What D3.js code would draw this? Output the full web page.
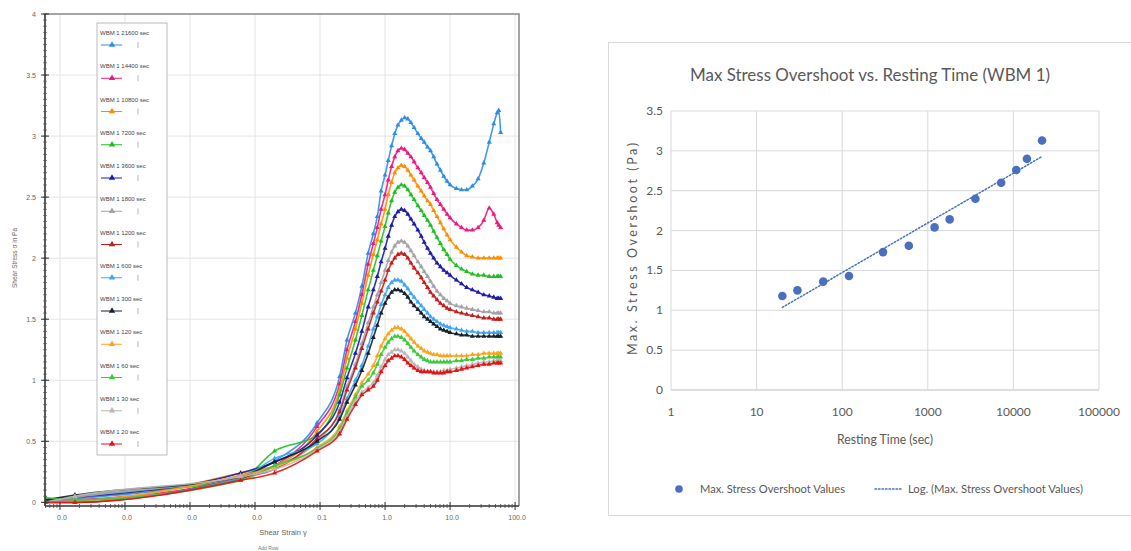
<!DOCTYPE html>
<html>
<head>
<meta charset="utf-8">
<script src="https://cdn.jsdelivr.net/npm/d3@7"></script>
<style>
  html, body { margin: 0; padding: 0; background: #fff; }
  svg { display: block; }
</style>
</head>
<body>
<svg id="chart" width="1131" height="551"></svg>
<script>
// ---------- Start-up shear curves: shear stress vs shear strain ----------
const strain = [
  0.000006, 0.000017, 0.006, 0.02, 0.09,
  0.2, 0.26, 0.35, 0.44, 0.55,
  0.66, 0.76, 0.87, 1.0, 1.12,
  1.26, 1.41, 1.58, 1.78, 2.0,
  2.24, 2.5, 2.8, 3.2, 3.6,
  4.0, 4.5, 5.0, 5.6, 6.3,
  7.1, 8.0, 9.0, 10, 12.5,
  15, 18, 22, 27, 33,
  40, 47, 53, 56, 60
];

const stress21600 = [
  0.01, 0.03, 0.22, 0.34, 0.65,
  1.03, 1.33, 1.55, 1.77, 2.04,
  2.2, 2.34, 2.55, 2.68, 2.8,
  2.92, 3.02, 3.09, 3.13, 3.15,
  3.14, 3.11, 3.07, 3.02, 2.98,
  2.95, 2.91, 2.88, 2.83, 2.77,
  2.72, 2.67, 2.63, 2.6, 2.57,
  2.56, 2.56, 2.59, 2.65, 2.78,
  2.95, 3.1, 3.19, 3.21, 3.03
];
const stress14400 = [
  0.01, 0.02, 0.2, 0.3, 0.62,
  0.97, 1.25, 1.48, 1.7, 1.95,
  2.12, 2.25, 2.4, 2.52, 2.64,
  2.75, 2.83, 2.88, 2.9, 2.89,
  2.86, 2.83, 2.79, 2.74, 2.7,
  2.66, 2.62, 2.58, 2.53, 2.48,
  2.44, 2.4, 2.36, 2.33, 2.28,
  2.25, 2.23, 2.23, 2.25, 2.31,
  2.41, 2.36, 2.29, 2.27, 2.25
];
const stress10800 = [
  0, 0, 0.24, 0.3, 0.58,
  0.92, 1.18, 1.42, 1.63, 1.86,
  2.03, 2.15, 2.28, 2.4, 2.52,
  2.62, 2.7, 2.74, 2.76, 2.75,
  2.72, 2.68, 2.64, 2.59, 2.55,
  2.51, 2.47, 2.44, 2.39, 2.34,
  2.29, 2.24, 2.19, 2.15, 2.09,
  2.05, 2.02, 2.01, 2.0, 2.0,
  2.0, 2.0, 2.0, 2.0, 2.0
];
const stress7200 = [
  0.02, 0.05, 0.19, 0.42, 0.55,
  0.88, 1.1, 1.33, 1.53, 1.74,
  1.9, 2.02, 2.14, 2.26, 2.37,
  2.47, 2.54, 2.58, 2.6, 2.59,
  2.56, 2.52, 2.48, 2.43, 2.39,
  2.35, 2.31, 2.27, 2.22, 2.17,
  2.12, 2.07, 2.03, 1.99, 1.94,
  1.91, 1.89, 1.87, 1.86, 1.86,
  1.85, 1.85, 1.85, 1.85, 1.85
];
const stress3600 = [
  0.02, 0.04, 0.24, 0.33, 0.55,
  0.82, 1.02, 1.22, 1.4, 1.6,
  1.74, 1.85, 1.97, 2.08, 2.18,
  2.27, 2.34, 2.38, 2.4, 2.39,
  2.36, 2.32, 2.28, 2.23, 2.18,
  2.13, 2.08, 2.04, 2.0, 1.96,
  1.93, 1.9, 1.88, 1.86, 1.82,
  1.79, 1.76, 1.74, 1.72, 1.7,
  1.69, 1.68, 1.67, 1.67, 1.67
];
const stress1800 = [
  0, 0.04, 0.22, 0.3, 0.5,
  0.76, 0.95, 1.13, 1.3, 1.47,
  1.6, 1.7, 1.8, 1.9, 1.98,
  2.05, 2.1, 2.13, 2.14, 2.13,
  2.1, 2.06, 2.02, 1.97, 1.93,
  1.89, 1.85, 1.81, 1.77, 1.73,
  1.7, 1.67, 1.65, 1.63, 1.61,
  1.6, 1.59, 1.58, 1.57, 1.56,
  1.56, 1.55, 1.55, 1.55, 1.55
];
const stress1200 = [
  0, 0, 0.2, 0.27, 0.52,
  0.74, 0.92, 1.1, 1.26, 1.42,
  1.55, 1.64, 1.73, 1.82, 1.9,
  1.96, 2.0, 2.03, 2.04, 2.03,
  2.0, 1.96, 1.92, 1.88, 1.84,
  1.8, 1.76, 1.72, 1.69, 1.66,
  1.63, 1.61, 1.59, 1.58, 1.56,
  1.55, 1.54, 1.53, 1.52, 1.51,
  1.51, 1.5, 1.5, 1.5, 1.5
];
const stress600 = [
  0.03, 0.02, 0.2, 0.36, 0.48,
  0.7, 0.85, 1.0, 1.12, 1.28,
  1.42, 1.52, 1.62, 1.7, 1.76,
  1.8, 1.82, 1.82, 1.81, 1.78,
  1.75, 1.71, 1.68, 1.64, 1.61,
  1.58, 1.55, 1.52, 1.5, 1.48,
  1.46, 1.45, 1.44, 1.43, 1.42,
  1.41, 1.4, 1.4, 1.39, 1.39,
  1.39, 1.39, 1.39, 1.39, 1.39
];
const stress300 = [
  0.02, 0.06, 0.21, 0.33, 0.5,
  0.68, 0.82, 0.96, 1.08, 1.22,
  1.35, 1.45, 1.55, 1.63, 1.68,
  1.72, 1.74, 1.74, 1.73, 1.71,
  1.68, 1.64, 1.61, 1.58, 1.55,
  1.52, 1.5, 1.48, 1.46, 1.44,
  1.42, 1.41, 1.4, 1.39, 1.38,
  1.37, 1.37, 1.36, 1.36, 1.36,
  1.36, 1.36, 1.36, 1.36, 1.36
];
const stress120 = [
  0, 0.01, 0.22, 0.29, 0.45,
  0.62, 0.75, 0.88, 0.98, 1.05,
  1.12, 1.2, 1.28, 1.34, 1.38,
  1.41, 1.43, 1.43, 1.42, 1.4,
  1.37, 1.34, 1.31, 1.28, 1.26,
  1.24, 1.23, 1.22, 1.21, 1.21,
  1.2, 1.2, 1.2, 1.2, 1.2,
  1.2, 1.2, 1.21, 1.21, 1.22,
  1.22, 1.22, 1.22, 1.22, 1.22
];
const stress60 = [
  0.04, 0.02, 0.18, 0.3, 0.44,
  0.6, 0.73, 0.86, 0.95, 1.0,
  1.06, 1.13, 1.21, 1.27, 1.31,
  1.34, 1.36, 1.36, 1.35, 1.33,
  1.3, 1.27, 1.24, 1.21, 1.19,
  1.17, 1.16, 1.15, 1.15, 1.15,
  1.15, 1.15, 1.15, 1.15, 1.16,
  1.16, 1.17, 1.17, 1.18, 1.18,
  1.19, 1.19, 1.19, 1.19, 1.19
];
const stress30 = [
  0, 0.05, 0.21, 0.27, 0.43,
  0.58, 0.7, 0.83, 0.9, 0.94,
  0.98, 1.04, 1.11, 1.17, 1.21,
  1.23, 1.25, 1.25, 1.24, 1.22,
  1.19, 1.16, 1.13, 1.11, 1.09,
  1.08, 1.07, 1.07, 1.07, 1.07,
  1.07, 1.08, 1.08, 1.09, 1.1,
  1.11, 1.12, 1.13, 1.14, 1.15,
  1.15, 1.16, 1.16, 1.16, 1.16
];
const stress20 = [
  0, 0, 0.18, 0.24, 0.42,
  0.56, 0.68, 0.8, 0.88, 0.92,
  0.95, 1.0, 1.07, 1.12, 1.16,
  1.18, 1.2, 1.2, 1.19, 1.17,
  1.14, 1.12, 1.1, 1.08, 1.07,
  1.07, 1.07, 1.07, 1.06, 1.06,
  1.06, 1.06, 1.07, 1.07, 1.08,
  1.09, 1.1, 1.11, 1.12, 1.13,
  1.13, 1.14, 1.14, 1.14, 1.14
];

const seriesLabels = [
  "WBM 1 21600 sec", "WBM 1 14400 sec", "WBM 1 10800 sec", "WBM 1 7200 sec",
  "WBM 1 3600 sec", "WBM 1 1800 sec", "WBM 1 1200 sec", "WBM 1 600 sec",
  "WBM 1 300 sec", "WBM 1 120 sec", "WBM 1 60 sec", "WBM 1 30 sec", "WBM 1 20 sec"
];
const seriesValues = [
  stress21600, stress14400, stress10800, stress7200, stress3600, stress1800,
  stress1200, stress600, stress300, stress120, stress60, stress30, stress20
];
const strainTickValues = [1e-5, 1e-4, 1e-3, 1e-2, 0.1, 1, 10, 100];
const strainTickLabels = ["0.0", "0.0", "0.0", "0.0", "0.1", "1.0", "10.0", "100.0"];
const stressTickValues = [0, 0.5, 1, 1.5, 2, 2.5, 3, 3.5, 4];
const stressTickLabels = ["0", "0.5", "1", "1.5", "2", "2.5", "3", "3.5", "4"];

// ---------- Max stress overshoot vs resting time ----------
const restingTime = [20, 30, 60, 120, 300, 600, 1200, 1800, 3600, 7200, 10800, 14400, 21600];
const maxOvershoot = [1.18, 1.25, 1.36, 1.43, 1.73, 1.81, 2.04, 2.14, 2.40, 2.60, 2.76, 2.90, 3.13];
const timeTickValues = [1, 10, 100, 1000, 10000, 100000];
const timeTickLabels = ["1", "10", "100", "1000", "10000", "100000"];
const overshootTickValues = [0, 0.5, 1, 1.5, 2, 2.5, 3, 3.5];
const overshootTickLabels = ["0", "0.5", "1", "1.5", "2", "2.5", "3", "3.5"];

// Series styling
const palette = [
  "#2a8ee6", "#f0187e", "#ff8c00", "#1fbf1f", "#1c1ca8", "#a3a3a3", "#c41e1e",
  "#3ea6f2", "#17202e", "#ffa31a", "#3acb3a", "#b8b8b8", "#e81212"
];

const svg = d3.select("#chart");

// ======================= Left chart =======================
const L = { left: 45, right: 519, top: 14, bottom: 506 };
const xL = d3.scaleLog().domain([Math.pow(10, -5.23), Math.pow(10, 2.06)]).range([L.left, L.right]);
const yL = d3.scaleLinear().domain([-0.03, 4]).range([L.bottom, L.top]);

const gL = svg.append("g").attr("font-family", "Liberation Sans, Arial, sans-serif");

// grid
gL.append("g").selectAll("line.h").data(stressTickValues.slice(1)).join("line")
  .attr("x1", L.left).attr("x2", L.right)
  .attr("y1", d => yL(d)).attr("y2", d => yL(d))
  .attr("stroke", "#e4e4e4").attr("stroke-width", 1);
gL.append("g").selectAll("line.v").data(strainTickValues).join("line")
  .attr("x1", d => xL(d)).attr("x2", d => xL(d))
  .attr("y1", L.top).attr("y2", L.bottom)
  .attr("stroke", "#e4e4e4").attr("stroke-width", 1);

// frame (top / right)
gL.append("path")
  .attr("d", `M${L.left},${L.top}H${L.right}V${L.bottom}`)
  .attr("fill", "none").attr("stroke", "#8c8c8c").attr("stroke-width", 1.6);

// curves
svg.append("clipPath").attr("id", "clipL").append("rect")
  .attr("x", L.left).attr("y", L.top - 2).attr("width", L.right - L.left).attr("height", L.bottom - L.top + 2);

const line = d3.line()
  .defined(d => d[1] != null)
  .x(d => xL(d[0])).y(d => yL(d[1]))
  .curve(d3.curveMonotoneX);
const tri = d3.symbol().type(d3.symbolTriangle).size(11);

const curvesG = gL.append("g").attr("clip-path", "url(#clipL)");
seriesValues.forEach((vals, i) => {
  const pts = strain.map((s, k) => [s, vals[k]]).filter(d => d[1] != null);
  const g = curvesG.append("g");
  g.append("path").datum(pts).attr("d", line)
    .attr("fill", "none").attr("stroke", palette[i]).attr("stroke-width", 1.6)
    .attr("stroke-opacity", 0.9);
  g.selectAll("path.m").data(pts).join("path").attr("class", "m")
    .attr("d", tri)
    .attr("transform", d => `translate(${xL(d[0])},${yL(d[1])})`)
    .attr("fill", palette[i]);
});

// y axis
gL.append("line").attr("x1", L.left).attr("x2", L.left).attr("y1", L.top).attr("y2", L.bottom)
  .attr("stroke", "#333").attr("stroke-width", 1.6);
const yMinor = d3.range(0, 4.0001, 0.05);
gL.append("g").selectAll("line").data(yMinor).join("line")
  .attr("x1", L.left - 2).attr("x2", L.left + 2)
  .attr("y1", d => yL(d)).attr("y2", d => yL(d))
  .attr("stroke", "#555").attr("stroke-width", 0.7);
gL.append("g").selectAll("line").data(stressTickValues).join("line")
  .attr("x1", L.left - 4).attr("x2", L.left + 4)
  .attr("y1", d => yL(d)).attr("y2", d => yL(d))
  .attr("stroke", "#333").attr("stroke-width", 1);
gL.append("g").selectAll("text").data(stressTickValues).join("text")
  .attr("x", L.left - 9).attr("y", d => yL(d) + 2.5)
  .attr("text-anchor", "end").attr("font-size", 7).attr("fill", "#666")
  .text((d, i) => stressTickLabels[i]);
gL.append("text")
  .attr("transform", `translate(17,${258}) rotate(-90)`)
  .attr("text-anchor", "middle").attr("font-size", 6.5).attr("fill", "#666")
  .text("Shear Stress σ in Pa");

// x axis
gL.append("line").attr("x1", L.left).attr("x2", L.right).attr("y1", L.bottom).attr("y2", L.bottom)
  .attr("stroke", "#333").attr("stroke-width", 1.6);
const xMinor = [];
for (let e = -6; e <= 2; e++) for (let m = 2; m <= 9; m++) {
  const v = m * Math.pow(10, e);
  if (v >= xL.domain()[0] && v <= xL.domain()[1]) xMinor.push(v);
}
gL.append("g").selectAll("line").data(xMinor).join("line")
  .attr("x1", d => xL(d)).attr("x2", d => xL(d))
  .attr("y1", L.bottom - 2).attr("y2", L.bottom + 2)
  .attr("stroke", "#444").attr("stroke-width", 0.8);
gL.append("g").selectAll("line").data(strainTickValues).join("line")
  .attr("x1", d => xL(d)).attr("x2", d => xL(d))
  .attr("y1", L.bottom - 4).attr("y2", L.bottom + 4)
  .attr("stroke", "#333").attr("stroke-width", 1);
gL.append("g").selectAll("text").data(strainTickValues).join("text")
  .attr("x", d => xL(d) + 2).attr("y", 520)
  .attr("text-anchor", "middle").attr("font-size", 7).attr("fill", "#666")
  .text((d, i) => strainTickLabels[i]);
gL.append("text").attr("x", 283).attr("y", 535)
  .attr("text-anchor", "middle").attr("font-size", 7.5).attr("fill", "#666")
  .text("Shear Strain γ");
gL.append("text").attr("x", 258).attr("y", 550)
  .attr("text-anchor", "start").attr("font-size", 5).attr("fill", "#777")
  .text("Add Row");

// legend
const legG = gL.append("g");
legG.append("rect").attr("x", 97).attr("y", 23).attr("width", 70).attr("height", 432)
  .attr("fill", "#fff").attr("stroke", "#aaa").attr("stroke-width", 0.8);
seriesLabels.forEach((lab, i) => {
  const y0 = 33 + i * 33.25;
  legG.append("text").attr("x", 100).attr("y", y0 + 2)
    .attr("font-size", 6).attr("fill", "#444").text(lab);
  legG.append("line").attr("x1", 101).attr("x2", 122).attr("y1", y0 + 12).attr("y2", y0 + 12)
    .attr("stroke", palette[i]).attr("stroke-width", 1);
  legG.append("path").attr("d", d3.symbol().type(d3.symbolTriangle).size(18))
    .attr("transform", `translate(112,${y0 + 12})`).attr("fill", palette[i]);
  legG.append("line").attr("x1", 138).attr("x2", 138).attr("y1", y0 + 9).attr("y2", y0 + 15)
    .attr("stroke", "#999").attr("stroke-width", 0.7);
});

// ======================= Right chart =======================
const R = { left: 671, right: 1099, top: 111, bottom: 390 };
const xR = d3.scaleLog().domain([1, 100000]).range([R.left, R.right]);
const yR = d3.scaleLinear().domain([0, 3.5]).range([R.bottom, R.top]);
const gR = svg.append("g").attr("font-family", "Lato, 'Open Sans', sans-serif").attr("fill", "#595959");

gR.append("rect").attr("x", 608.5).attr("y", 42.5).attr("width", 540).attr("height", 473)
  .attr("fill", "#fff").attr("stroke", "#d9d9d9").attr("stroke-width", 1);

gR.append("text").attr("x", 870).attr("y", 81).attr("text-anchor", "middle")
  .attr("font-size", 17).attr("textLength", 360).attr("lengthAdjust", "spacingAndGlyphs")
  .text("Max Stress Overshoot vs. Resting Time (WBM 1)");

// gridlines
gR.append("g").selectAll("line").data(overshootTickValues).join("line")
  .attr("x1", R.left).attr("x2", R.right)
  .attr("y1", d => yR(d)).attr("y2", d => yR(d))
  .attr("stroke", d => d === 0 ? "#bfbfbf" : "#d9d9d9").attr("stroke-width", 1);
gR.append("g").selectAll("line").data(timeTickValues).join("line")
  .attr("x1", d => xR(d)).attr("x2", d => xR(d))
  .attr("y1", R.top).attr("y2", R.bottom)
  .attr("stroke", "#d9d9d9").attr("stroke-width", 1);

// tick labels
gR.append("g").selectAll("text").data(overshootTickValues).join("text")
  .attr("x", 663).attr("y", d => yR(d) + 4).attr("text-anchor", "end")
  .attr("font-size", 12).text((d, i) => overshootTickLabels[i]);
gR.append("g").selectAll("text").data(timeTickValues).join("text")
  .attr("x", d => xR(d)).attr("y", 416).attr("text-anchor", "middle")
  .attr("font-size", 12).text((d, i) => timeTickLabels[i]);

// axis titles
gR.append("text").attr("x", 885).attr("y", 444).attr("text-anchor", "middle")
  .attr("font-size", 12.5).attr("textLength", 96).attr("lengthAdjust", "spacingAndGlyphs")
  .text("Resting Time (sec)");
gR.append("text").attr("transform", "translate(637,249) rotate(-90)")
  .attr("text-anchor", "middle").attr("font-size", 12.5)
  .attr("textLength", 212).attr("lengthAdjust", "spacing")
  .text("Max. Stress Overshoot (Pa)");

// logarithmic trendline fitted by least squares on ln(t)
const lnT = restingTime.map(t => Math.log(t));
const mx = d3.mean(lnT), my = d3.mean(maxOvershoot);
const slope = d3.sum(lnT, (v, i) => (v - mx) * (maxOvershoot[i] - my)) / d3.sum(lnT, v => (v - mx) * (v - mx));
const intercept = my - slope * mx;
const tMin = d3.min(restingTime), tMax = d3.max(restingTime);
const trendPts = d3.range(0, 61).map(k => {
  const t = Math.exp(Math.log(tMin) + (Math.log(tMax) - Math.log(tMin)) * k / 60);
  return [t, intercept + slope * Math.log(t)];
});
gR.append("path").datum(trendPts)
  .attr("d", d3.line().x(d => xR(d[0])).y(d => yR(d[1])))
  .attr("fill", "none").attr("stroke", "#4472c4").attr("stroke-width", 1.5)
  .attr("stroke-dasharray", "1.5,2").attr("stroke-linecap", "round");

// data points
gR.append("g").selectAll("circle").data(restingTime).join("circle")
  .attr("cx", d => xR(d)).attr("cy", (d, i) => yR(maxOvershoot[i]))
  .attr("r", 4.3).attr("fill", "#4a6fbf");

// legend
gR.append("circle").attr("cx", 679).attr("cy", 489).attr("r", 3.8).attr("fill", "#4a6fbf");
gR.append("text").attr("x", 700).attr("y", 493).attr("font-size", 12)
  .attr("textLength", 145).attr("lengthAdjust", "spacingAndGlyphs")
  .text("Max. Stress Overshoot Values");
gR.append("line").attr("x1", 875).attr("x2", 902).attr("y1", 489).attr("y2", 489)
  .attr("stroke", "#4472c4").attr("stroke-width", 1.5)
  .attr("stroke-dasharray", "1.5,2").attr("stroke-linecap", "round");
gR.append("text").attr("x", 908).attr("y", 493).attr("font-size", 12)
  .attr("textLength", 175).attr("lengthAdjust", "spacingAndGlyphs")
  .text("Log. (Max. Stress Overshoot Values)");
</script>
</body>
</html>
